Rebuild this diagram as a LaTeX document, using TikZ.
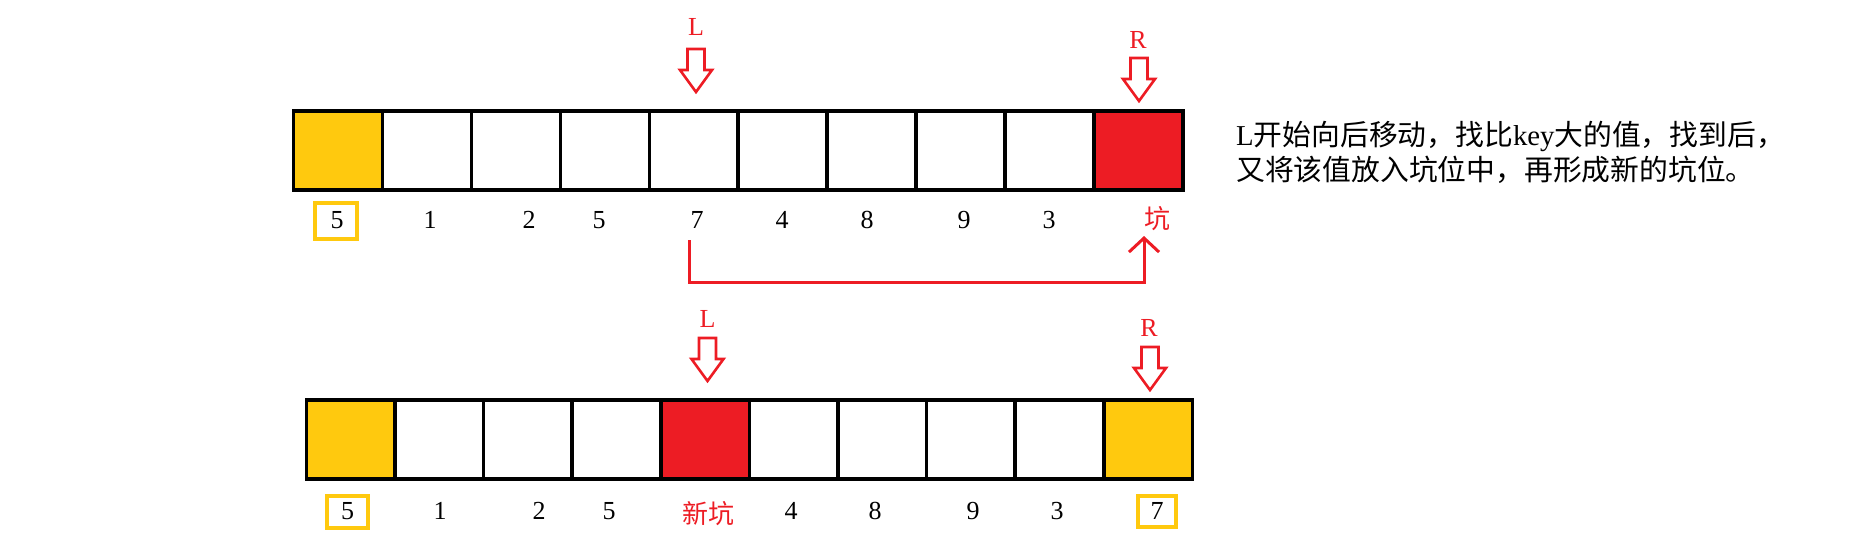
\documentclass[tikz,border=0pt]{standalone}
\usepackage{fontspec}
\setmainfont{Liberation Serif}
\newfontfamily\cjk{Noto Sans CJK SC}
\usetikzlibrary{arrows.meta}
\definecolor{gold}{HTML}{FFC90E}
\definecolor{pred}{HTML}{ED1C24}
\begin{document}
\begin{tikzpicture}[x=1pt,y=-1pt,
  cellbox/.style={draw=black,line width=3.5pt,minimum width=88.9pt,minimum height=79pt,inner sep=0pt,outer sep=0pt},
  lab/.style={inner sep=0pt,font=\fontsize{26}{30}\selectfont},
  redlab/.style={lab,text=pred},
  keybox/.style={draw=gold,line width=4pt,inner sep=0pt},
  desc/.style={anchor=west,inner sep=0pt,font=\fontsize{28.8}{34}\selectfont},
  conn/.style={draw=pred,line width=3pt,line join=miter,-{Straight Barb[length=14pt 0,width=30pt 0,line width=3pt]}},
  downarr/.pic={\draw[pred,line width=2.6pt,line join=miter] (-8.5,0) -- (8.5,0) -- (8.5,21) -- (16,21) -- (0,43) -- (-16,21) -- (-8.5,21) -- cycle;}
]
\useasboundingbox (0,0) rectangle (1858,544);
% top array
\foreach \i/\c in {0/gold,1/white,2/white,3/white,4/white,5/white,6/white,7/white,8/white,9/pred}
  \node[cellbox,fill=\c] (t\i) at ({293.5+88.95*(\i+0.5)},150.5) {};
% bottom array
\foreach \i/\c in {0/gold,1/white,2/white,3/white,4/pred,5/white,6/white,7/white,8/white,9/gold}
  \node[cellbox,fill=\c] (b\i) at ({306.5+88.6*(\i+0.5)},439.5) {};
% top labels
\node[keybox,minimum width=42pt,minimum height=36pt] (tk) at (336,221) {};
\foreach \x/\t [count=\k] in {337/5,430/1,529/2,599/5,697/7,782/4,867/8,964/9,1049/3}
  \node[lab] (tl\k) at (\x,220) {\t};
\node[redlab] (tkeng) at (1157,219) {\cjk 坑};
% bottom labels
\node[keybox,minimum width=41pt,minimum height=32pt] (bk1) at (347.5,512) {};
\node[keybox,minimum width=38pt,minimum height=31pt] (bk2) at (1157,511.5) {};
\foreach \x/\t [count=\k] in {347.5/5,440/1,539/2,609/5,791/4,875/8,973/9,1057/3,1157/7}
  \node[lab] (bl\k) at (\x,511) {\t};
\node[redlab] (bnew) at (708,514) {\cjk 新坑};
% pointers
\node[redlab] (tL) at (696,27) {L};
\pic at (696,49) {downarr};
\node[redlab] (tR) at (1138,39.5) {R};
\pic at (1139,58) {downarr};
\node[redlab] (bL) at (707.5,319) {L};
\pic at (707.5,338) {downarr};
\node[redlab] (bR) at (1149,328) {R};
\pic at (1150,347) {downarr};
% connector
\coordinate (c1) at (689,240);
\coordinate (c1b) at (689,282);
\coordinate (c2b) at (1144,282);
\coordinate (c2) at (1144,236);
\draw[conn] (c1) -- (c1b) -- (c2b) -- (c2);
% description
\node[desc] (d1) at (1236,136) {L{\cjk 开始向后移动，找比}key{\cjk 大的值，找到后，}};
\node[desc] (d2) at (1236,169.5) {\cjk 又将该值放入坑位中，再形成新的坑位。};
\end{tikzpicture}
\end{document}
